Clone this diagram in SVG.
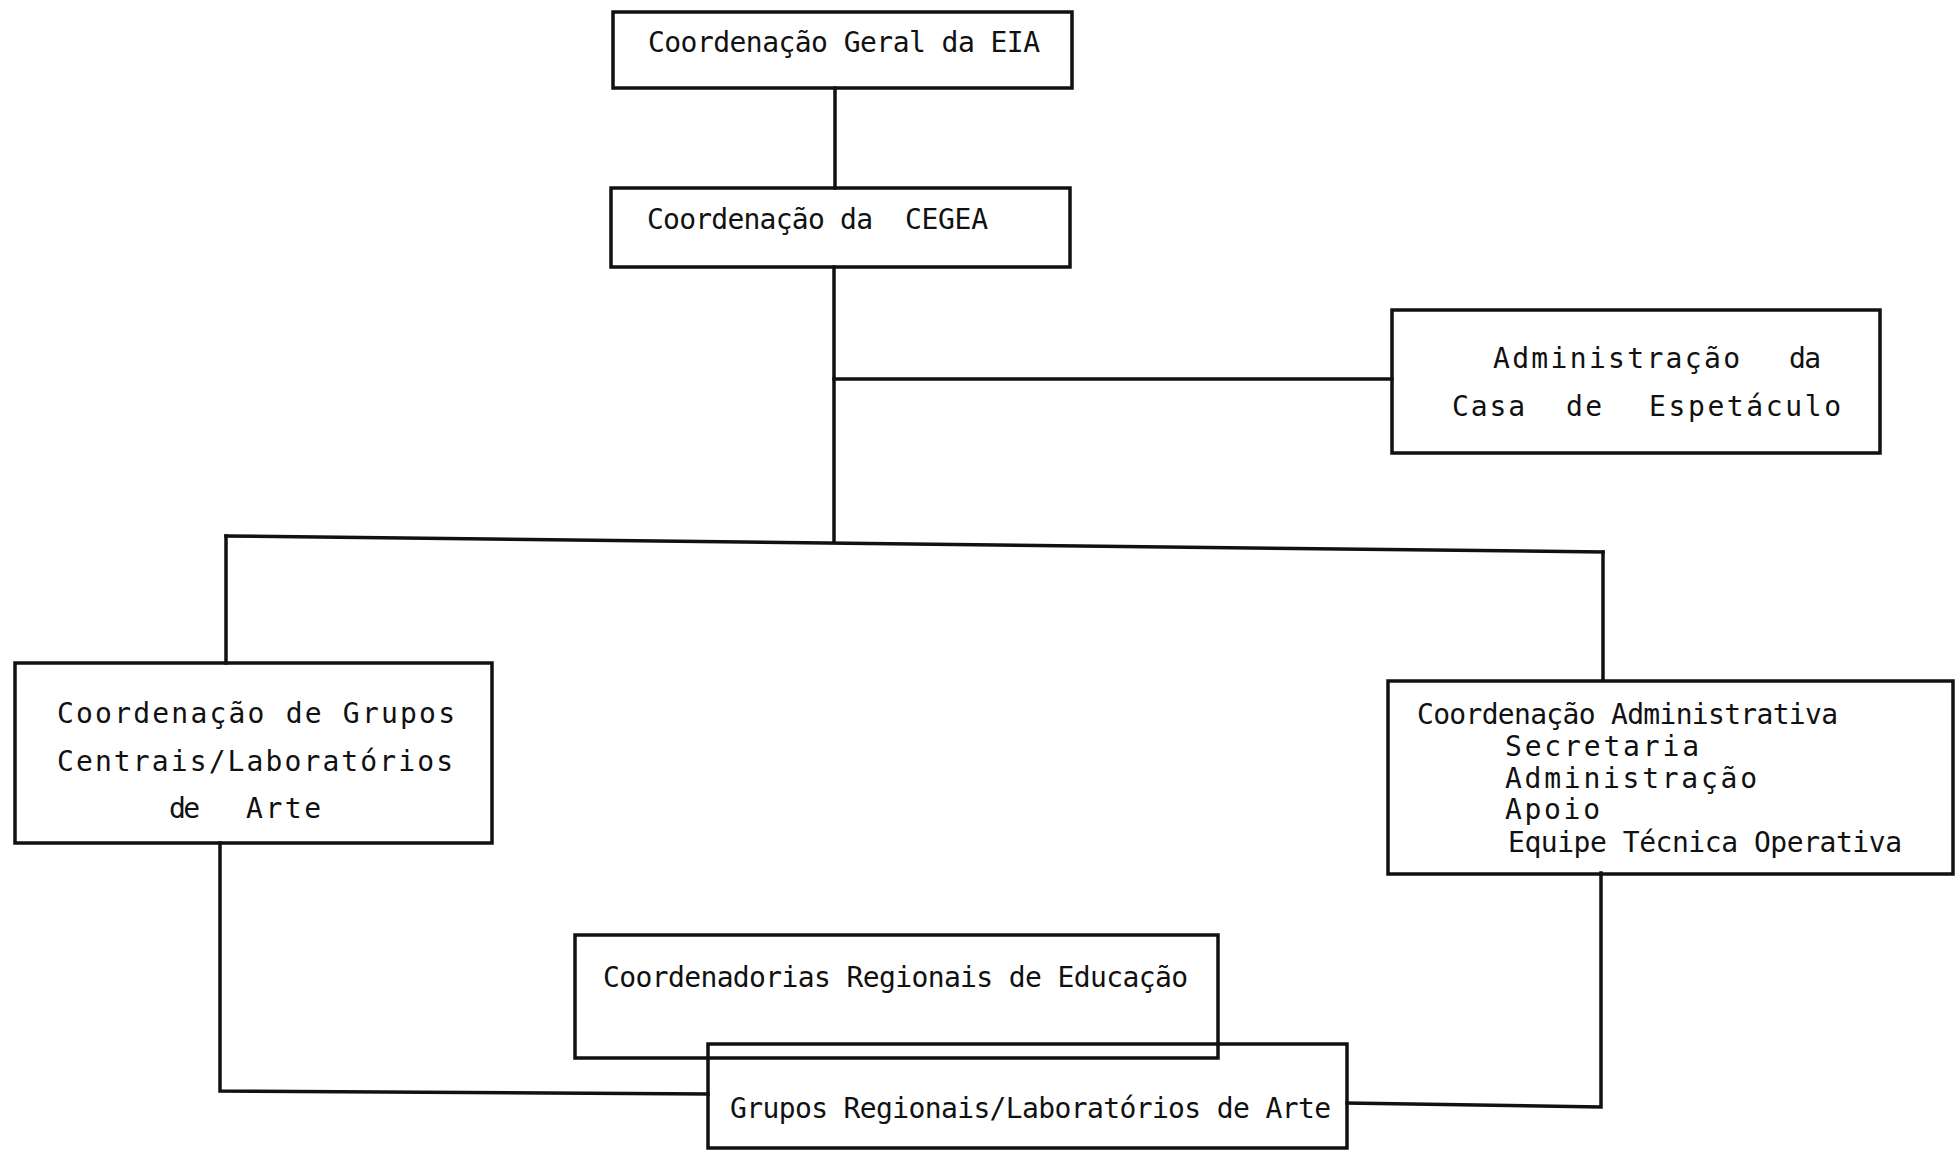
<svg xmlns="http://www.w3.org/2000/svg" width="1955" height="1155" viewBox="0 0 1955 1155">
<style>
.box{fill:none;stroke:#111;stroke-width:3.5}
.ln{fill:none;stroke:#111;stroke-width:3.5;stroke-linecap:square}
.t{font-family:"DejaVu Sans Mono","Liberation Mono",monospace;font-size:28px;fill:#111}
</style>
<rect width="1955" height="1155" fill="#fff"/>
<g id="connectors">
<path class="ln" d="M835,88 V188"/>
<path class="ln" d="M834,267 V541"/>
<path class="ln" d="M834,379 H1392"/>
<path class="ln" d="M226,536 L1603,552"/>
<path class="ln" d="M226,536 V663"/>
<path class="ln" d="M1603,552 V680"/>
<path class="ln" d="M220,843 V1091 L708,1094"/>
<path class="ln" d="M1601,873 V1107 L1347,1103"/>
</g>
<g id="n1">
<rect class="box" x="613" y="12" width="459" height="76"/>
<text class="t" x="648" y="52" textLength="392" lengthAdjust="spacing">Coordenação Geral da EIA</text>
</g>
<g id="n2">
<rect class="box" x="611" y="188" width="459" height="79"/>
<text class="t" x="647" y="229" textLength="226" lengthAdjust="spacing">Coordenação da</text>
<text class="t" x="905" y="229" textLength="83" lengthAdjust="spacing">CEGEA</text>
</g>
<g id="n3">
<rect class="box" x="1392" y="310" width="488" height="143"/>
<text class="t" x="1493" y="368" textLength="247" lengthAdjust="spacing">Administração</text>
<text class="t" x="1789" y="368" textLength="32" lengthAdjust="spacing">da</text>
<text class="t" x="1452" y="416" textLength="73" lengthAdjust="spacing">Casa</text>
<text class="t" x="1566" y="416" textLength="36" lengthAdjust="spacing">de</text>
<text class="t" x="1649" y="416" textLength="192" lengthAdjust="spacing">Espetáculo</text>
</g>
<g id="n4">
<rect class="box" x="15" y="663" width="477" height="180"/>
<text class="t" x="57" y="723" textLength="398" lengthAdjust="spacing">Coordenação de Grupos</text>
<text class="t" x="57" y="771" textLength="396" lengthAdjust="spacing">Centrais/Laboratórios</text>
<text class="t" x="169" y="818" textLength="31" lengthAdjust="spacing">de</text>
<text class="t" x="246" y="818" textLength="75" lengthAdjust="spacing">Arte</text>
</g>
<g id="n5">
<rect class="box" x="1388" y="681" width="565" height="193"/>
<text class="t" x="1417" y="724" textLength="421" lengthAdjust="spacing">Coordenação Administrativa</text>
<text class="t" x="1505" y="756" textLength="194" lengthAdjust="spacing">Secretaria</text>
<text class="t" x="1505" y="788" textLength="252" lengthAdjust="spacing">Administração</text>
<text class="t" x="1505" y="819" textLength="95" lengthAdjust="spacing">Apoio</text>
<text class="t" x="1508" y="852" textLength="394" lengthAdjust="spacing">Equipe Técnica Operativa</text>
</g>
<g id="n6">
<rect class="box" x="575" y="935" width="643" height="123"/>
<text class="t" x="603" y="987" textLength="585" lengthAdjust="spacing">Coordenadorias Regionais de Educação</text>
</g>
<g id="n7">
<rect class="box" x="708" y="1044" width="639" height="104"/>
<text class="t" x="730" y="1118" textLength="601" lengthAdjust="spacing">Grupos Regionais/Laboratórios de Arte</text>
</g>
</svg>
